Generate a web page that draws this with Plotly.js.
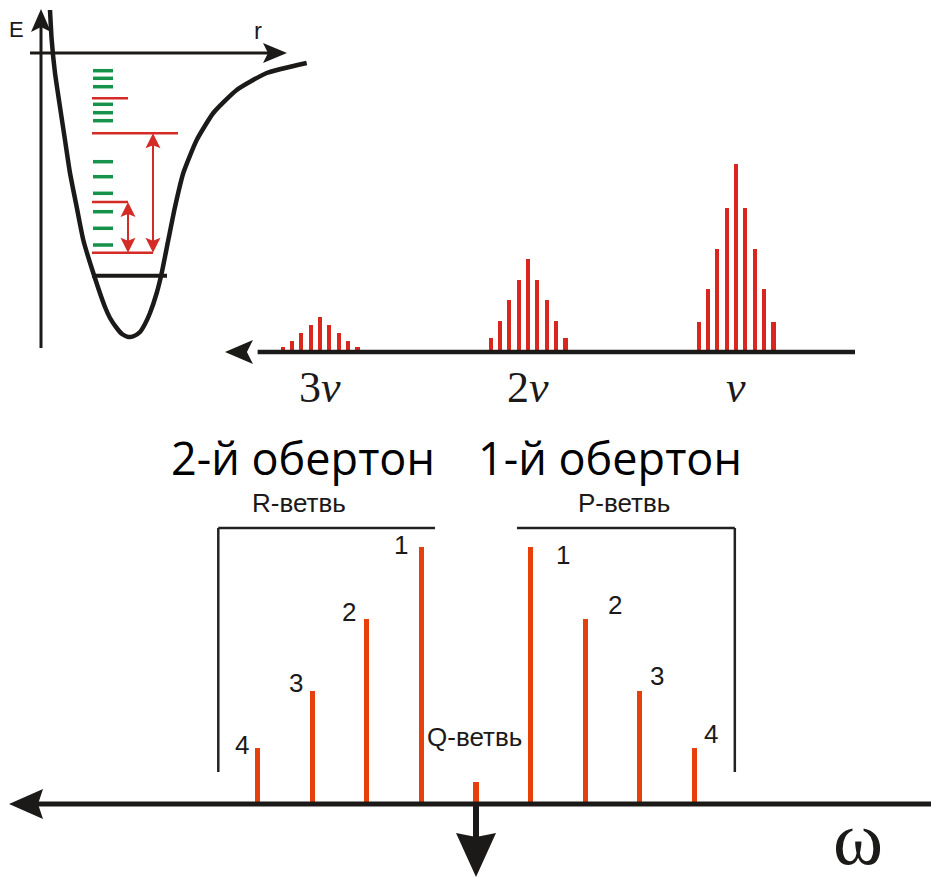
<!DOCTYPE html>
<html><head><meta charset="utf-8">
<script src="https://cdn.plot.ly/plotly-3.0.1.min.js"></script>
<style>html,body{margin:0;padding:0;background:#fff}#chart{width:931px;height:879px}</style>
</head><body><div id="chart"></div>
<script>
// ---------- potential well (arbitrary units: r, E) ----------
const wellR = [0.9,1.07,1.4,1.9,2.4,2.9,3.57,4.23,5.23,6.4,6.9,7.57,8.1,8.73,9.3,9.9,10.4,10.9,11.57,12.07,12.73,13.4,14.23,15.57,17.23,19.57,22.57,26.57];
const wellE = [4.3,1.3,-2.0,-5.4,-8.7,-12.0,-15.4,-18.7,-22.0,-25.4,-26.5,-27.5,-28.1,-28.4,-28.3,-27.9,-27.1,-26.0,-24.0,-22.0,-18.7,-15.4,-12.0,-8.7,-6.0,-3.7,-2.0,-1.0];
const greenLevelsE = [-1.77,-2.53,-3.37,-5.13,-5.97,-6.77,-10.87,-12.37,-14.03,-15.87,-17.53,-19.2];
const greenLevelR = [5.2,7.2];
const redLevelsE = [-4.53,-8.03,-14.9,-19.97];
const redLevelsEnd = [8.7,13.7,8.7,11.2];
const levelStartR = 5.1;
const groundE = -22.27, groundEnd = 12.6;
const transR = [8.7,11.2];
const transLow = [-19.97,-19.97];
const transHigh = [-14.9,-8.03];

// ---------- vibrational bands (position in units of nu) ----------
const bandNames = ['<i>ν</i>','2<i>ν</i>','3<i>ν</i>'];
const bandCenters = [1,2,3];
const lineOffsets = [0.18,0.135,0.09,0.045,0,-0.045,-0.09,-0.135,-0.18];
const bandNu  = [0.161,0.337,0.55,0.769,1.0,0.769,0.55,0.337,0.161];
const band2Nu = [0.076,0.165,0.275,0.382,0.497,0.382,0.275,0.165,0.076];
const band3Nu = [0.028,0.059,0.1,0.144,0.186,0.144,0.1,0.059,0.028];

// ---------- rotational structure ----------
const rotLabels = ['4','3','2','1','Q','1','2','3','4'];
const rotPos    = [4,3,2,1,0,-1,-2,-3,-4];
const rotInt    = [0.217,0.44,0.719,1.0,0.087,1.0,0.719,0.44,0.217];

// ---------- helpers ----------
const W = 931, H = 879;
const PX = x => x / W, PY = y => 1 - y / H;
const BLACK = '#1c1a19';
function head(xref, yref, xa, ya, dir, len, hw, notch, color) {
  let p;
  if (dir === 'left')  p = `M0,0 L${len},${hw} L${len-notch},0 L${len},${-hw} Z`;
  if (dir === 'right') p = `M0,0 L${-len},${hw} L${-(len-notch)},0 L${-len},${-hw} Z`;
  if (dir === 'up')    p = `M0,0 L${hw},${-len} L0,${-(len-notch)} L${-hw},${-len} Z`;
  if (dir === 'down')  p = `M0,0 L${hw},${len} L0,${len-notch} L${-hw},${len} Z`;
  return {type:'path', xref, yref, xsizemode:'pixel', ysizemode:'pixel', xanchor:xa, yanchor:ya,
          path:p, fillcolor:color, line:{width:0}, layer:'above'};
}
function seg(xref, yref, x0, y0, x1, y1, w, color) {
  return {type:'line', xref, yref, x0, y0, x1, y1, line:{color, width:w}, layer:'above'};
}

const traces = [];
traces.push({x: wellR, y: wellE, xaxis:'x', yaxis:'y', mode:'lines', line:{color:BLACK, width:4.5, shape:'spline', smoothing:0.5}, hoverinfo:'skip'});
{
  const xs = [], ys = [];
  greenLevelsE.forEach(e => { xs.push(greenLevelR[0], greenLevelR[1], null); ys.push(e, e, null); });
  traces.push({x: xs, y: ys, xaxis:'x', yaxis:'y', mode:'lines', line:{color:'#17924a', width:3.5}, hoverinfo:'skip'});
}
{
  const xs = [], ys = [];
  redLevelsE.forEach((e, i) => { xs.push(levelStartR, redLevelsEnd[i], null); ys.push(e, e, null); });
  traces.push({x: xs, y: ys, xaxis:'x', yaxis:'y', mode:'lines', line:{color:'#d42b26', width:2.5}, hoverinfo:'skip'});
}
traces.push({x:[levelStartR, groundEnd], y:[groundE, groundE], xaxis:'x', yaxis:'y', mode:'lines', line:{color:BLACK, width:4}, hoverinfo:'skip'});
{
  const xs = [], ys = [];
  transR.forEach((r, i) => { xs.push(r, r, null); ys.push(transLow[i] + 0.6, transHigh[i] - 0.6, null); });
  traces.push({x: xs, y: ys, xaxis:'x', yaxis:'y', mode:'lines', line:{color:'#d42b26', width:2}, hoverinfo:'skip'});
}

const BAR_RED = '#d9261e';
[bandNu, band2Nu, band3Nu].forEach((vals, gi) => {
  traces.push({type:'bar', x: lineOffsets.map(o => bandCenters[gi] + o), y: vals, width: 0.02,
    xaxis:'x2', yaxis:'y2', marker:{color:BAR_RED, line:{width:0}}, hoverinfo:'skip'});
});

traces.push({type:'bar', x: rotPos, y: rotInt, width: 0.095, xaxis:'x3', yaxis:'y3',
  marker:{color:'#e8400a', line:{width:0}}, hoverinfo:'skip'});

const shapes = [];
shapes.push(seg('x','y', 0, -29.5, 0, 2.6, 3, BLACK));
shapes.push(head('x','y', 0, 4.4, 'up', 23, 10, 5, BLACK));
shapes.push(seg('x','y', -1.1, 0, 23.0, 0, 3, BLACK));
shapes.push(head('x','y', 24.6, 0, 'right', 24, 10, 5, BLACK));
transR.forEach((r, i) => {
  shapes.push(head('x','y', r, transHigh[i], 'up', 15, 7.5, 3, '#d42b26'));
  shapes.push(head('x','y', r, transLow[i], 'down', 15, 7.5, 3, '#d42b26'));
});
shapes.push(seg('x2','y2', 3.3, 0, 0.428, 0, 4.5, BLACK));
shapes.push(head('x2','y2', 3.457, 0, 'left', 28, 12, 6, BLACK));
shapes.push(seg('x3','y3', 8.1, 0, -8.4, 0, 5, BLACK));
shapes.push(head('x3','y3', 8.553, 0, 'left', 34, 15, 5, BLACK));
shapes.push(seg('x3','y3', 0, 0, 0, -0.15, 6, BLACK));
shapes.push(head('x3','y3', 0, -0.284, 'down', 44, 20, 4, BLACK));
const BR = '#222';
shapes.push(seg('x3','y3', 4.72, 0.1245, 4.72, 1.074, 2.5, BR));
shapes.push(seg('x3','y3', 4.72, 1.074, 0.75, 1.074, 2.5, BR));
shapes.push(seg('x3','y3', -0.75, 1.074, -4.74, 1.074, 2.5, BR));
shapes.push(seg('x3','y3', -4.74, 1.074, -4.74, 0.1245, 2.5, BR));

const annotations = [];
const sans = 'Liberation Sans, Arial, sans-serif';
function ann(o) { return Object.assign({showarrow:false, xanchor:'center', yanchor:'middle'}, o); }
annotations.push(ann({xref:'x', yref:'y', x:-2.45, y:2.35, text:'E', font:{family:sans, size:22, color:BLACK}}));
annotations.push(ann({xref:'x', yref:'y', x:21.7, y:2.3, text:'r', font:{family:sans, size:24, color:BLACK}}));
bandNames.forEach((n, i) => {
  annotations.push(ann({xref:'x2', yref:'y2', x: bandCenters[i], y:-0.19, text:n,
    font:{family:'Liberation Serif, Times New Roman, serif', size:44, color:BLACK}}));
});
const labDx = [0.29,0.30,0.33,0.37,null,-0.59,-0.55,-0.31,-0.31];
const labDy = [0.013,0.031,0.028,0.008,null,-0.031,0.055,0.058,0.055];
rotLabels.forEach((l, i) => {
  if (l === 'Q') return;
  annotations.push(ann({xref:'x3', yref:'y3', x: rotPos[i] + labDx[i], y: rotInt[i] + labDy[i], text:l,
    font:{family:sans, size:26, color:BLACK}}));
});
annotations.push(ann({xref:'paper', yref:'paper', x:PX(474), y:PY(737), text:'Q-ветвь', font:{family:sans, size:26, color:BLACK}}));
annotations.push(ann({xref:'paper', yref:'paper', x:PX(299), y:PY(503), text:'R-ветвь', font:{family:sans, size:26, color:BLACK}}));
annotations.push(ann({xref:'paper', yref:'paper', x:PX(624), y:PY(503), text:'P-ветвь', font:{family:sans, size:26, color:BLACK}}));
annotations.push(ann({xref:'paper', yref:'paper', x:PX(303), y:PY(457), text:'2-й обертон', font:{family:'Open Sans, sans-serif', size:45, color:'#000'}}));
annotations.push(ann({xref:'paper', yref:'paper', x:PX(610), y:PY(457), text:'1-й обертон', font:{family:'Open Sans, sans-serif', size:45, color:'#000'}}));
annotations.push(ann({xref:'paper', yref:'paper', x:PX(858), y:PY(838), text:'ω', font:{family:'Liberation Serif, serif', size:76, color:BLACK}}));

const hid = {visible:false, showgrid:false, zeroline:false, fixedrange:true};
const layout = {
  width: W, height: H, margin:{l:0, r:0, t:0, b:0, pad:0},
  paper_bgcolor:'#fff', plot_bgcolor:'rgba(0,0,0,0)', showlegend:false, barmode:'overlay', bargap:0,
  xaxis:  Object.assign({}, hid, {domain:[0, 320/W], range:[-4.1, 27.9], anchor:'y'}),
  yaxis:  Object.assign({}, hid, {domain:[PY(360), 1], range:[-30.7, 5.3], anchor:'x'}),
  xaxis2: Object.assign({}, hid, {domain:[200/W, 870/W], range:[3.577, 0.356], anchor:'y2'}),
  yaxis2: Object.assign({}, hid, {domain:[PY(420), PY(140)], range:[-0.3623, 1.1295], anchor:'x2'}),
  xaxis3: Object.assign({}, hid, {domain:[0, 1], range:[8.718, -8.333], anchor:'y3'}),
  yaxis3: Object.assign({}, hid, {domain:[0, PY(470)], range:[-0.2918, 1.2996], anchor:'x3'}),
  shapes, annotations
};
Plotly.newPlot('chart', traces, layout, {staticPlot:true, displayModeBar:false});
</script></body></html>
